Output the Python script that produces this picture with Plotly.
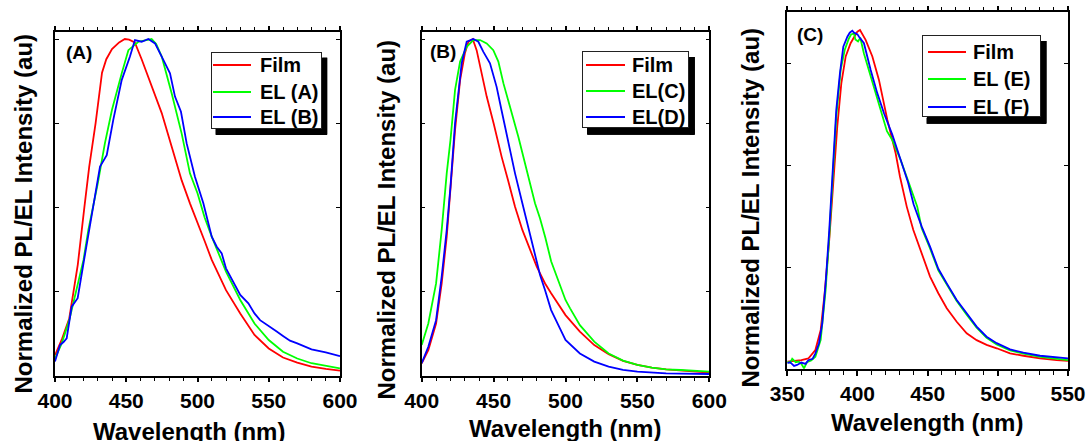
import plotly.graph_objects as go

# ---------------- data ----------------
# Panel A
a_film_wl = [400, 405, 410, 413, 416, 420.6, 424, 428.5, 433, 436, 440, 445, 449, 452, 456, 460.8, 467.8, 474.9,
             481.9, 488.9, 494.7, 500, 505, 510, 520, 530, 540, 550, 560, 570, 580, 590, 600]
a_film_val = [0.061, 0.11, 0.17, 0.25, 0.33, 0.50, 0.62, 0.75, 0.90, 0.94, 0.97, 0.99, 1.0, 0.998, 0.99, 0.94, 0.86, 0.78,
              0.68, 0.58, 0.512, 0.457, 0.40, 0.344, 0.254, 0.185, 0.121, 0.081, 0.054, 0.039, 0.027, 0.02, 0.015]
a_elA_wl = [400, 404.7, 410, 414, 420, 423.4, 430, 435, 440, 446.8, 451.5, 458.5, 464, 467.8, 471, 474.9, 481.9,
            488.9, 494.7, 500, 505, 510, 520, 530, 540, 550, 560, 570, 580, 590, 600]
a_elA_val = [0.051, 0.096, 0.165, 0.235, 0.344, 0.433, 0.571, 0.69, 0.79, 0.898, 0.967, 0.992, 0.998, 1.0, 0.985, 0.948, 0.838,
             0.719, 0.601, 0.542, 0.47, 0.413, 0.309, 0.225, 0.155, 0.106, 0.071, 0.051, 0.037, 0.029, 0.022]
a_elB_wl = [400, 403.5, 406, 408.2, 411.7, 415.9, 420, 425.7, 431.6, 436.3, 440.9, 446.8, 452.6, 456.1, 460.8, 465.5,
            470.2, 474.9, 480.7, 484.2, 488.4, 492.4, 498.2, 504.1, 507.6, 510, 513.5, 517, 520, 525.2, 530, 535.7,
            540, 543.9, 550, 555.6, 560, 564.9, 570, 575.4, 580, 590, 600]
a_elB_val = [0.042, 0.091, 0.10, 0.111, 0.205, 0.23, 0.334, 0.472, 0.621, 0.655, 0.76, 0.878, 0.948, 0.997, 0.992, 1.0,
             0.987, 0.948, 0.898, 0.829, 0.784, 0.69, 0.591, 0.512, 0.452, 0.413, 0.383, 0.363, 0.319, 0.279, 0.24, 0.215,
             0.185, 0.165, 0.146, 0.131, 0.118, 0.104, 0.096, 0.086, 0.078, 0.069, 0.058]

# Panel B
b_film_wl = [400, 404.6, 410, 413.9, 417.4, 420, 423.2, 426.7, 430, 432.5, 435.5, 438.2, 440.6, 445.2, 450, 455.6, 460,
             464.9, 470, 475.3, 480, 482.3, 485.8, 490, 496.2, 500, 510, 520, 530, 540, 550, 560, 570, 580, 590, 600]
b_film_val = [0.037, 0.076, 0.155, 0.274, 0.413, 0.551, 0.73, 0.878, 0.957, 0.992, 1.0, 0.967, 0.918, 0.829, 0.75, 0.65, 0.581,
              0.502, 0.433, 0.373, 0.324, 0.304, 0.274, 0.245, 0.205, 0.18, 0.131, 0.091, 0.064, 0.044, 0.032, 0.024, 0.019,
              0.015, 0.012, 0.009]
b_elC_wl = [400, 404.6, 410, 413.9, 417.4, 420, 423.2, 426.7, 431.3, 435.9, 440.6, 445.2, 449.8, 453.3, 456.8, 461.4,
            467.2, 473, 478.8, 482.3, 486, 490, 496.2, 500, 503.2, 510, 520, 530, 540, 550, 560, 570, 580, 590, 600]
b_elC_val = [0.091, 0.155, 0.274, 0.433, 0.601, 0.70, 0.849, 0.933, 0.977, 0.997, 0.997, 0.987, 0.967, 0.933, 0.869, 0.799,
             0.71, 0.611, 0.512, 0.467, 0.41, 0.34, 0.27, 0.225, 0.20, 0.15, 0.101, 0.066, 0.045, 0.032, 0.024, 0.019,
             0.017, 0.015, 0.012]
b_elD_wl = [400, 404.6, 410, 413.9, 417.4, 420, 423.2, 427.8, 431.3, 435.9, 439.4, 442.9, 447.5, 452.1, 455.6, 460, 464.9,
            470, 475.3, 480, 482.3, 485.8, 490, 496.2, 500, 510, 520, 530, 540, 550, 560, 570, 580, 590, 600]
b_elD_val = [0.037, 0.086, 0.165, 0.294, 0.433, 0.561, 0.75, 0.928, 0.992, 1.0, 0.992, 0.962, 0.928, 0.858, 0.787, 0.70, 0.601,
             0.512, 0.423, 0.344, 0.299, 0.254, 0.195, 0.14, 0.106, 0.066, 0.042, 0.027, 0.017, 0.012, 0.009, 0.007,
             0.006, 0.005, 0.005]

# Panel C
c_film_wl = [350, 360, 365, 370, 373.8, 376.6, 379.7, 382.8, 385.6, 388.5, 391.6, 395.1, 397.5, 399.9, 401.8, 405.8,
             410.6, 415.3, 421.3, 427.2, 430.3, 435.1, 439.8, 445.7, 451.7, 457.6, 463.6, 470.7, 477.8, 484.9, 492,
             499.2, 508.7, 518.2, 530.1, 541.9, 550]
c_film_val = [0.022, 0.026, 0.031, 0.056, 0.115, 0.223, 0.37, 0.547, 0.713, 0.841, 0.92, 0.959, 0.978, 0.993, 0.998, 0.969,
              0.92, 0.851, 0.733, 0.635, 0.566, 0.478, 0.409, 0.341, 0.272, 0.223, 0.179, 0.139, 0.105, 0.085, 0.071,
              0.061, 0.046, 0.039, 0.031, 0.026, 0.024]
c_elE_wl = [350, 352, 353.5, 356, 358, 360, 361.9, 364, 367, 370, 373.8, 377.3, 379.9, 382.3, 384.9, 388, 390.9, 393.9,
            395.5, 397.5, 398.5, 400.4, 402, 404.6, 409.4, 414.1, 418.9, 421, 424.8, 430.8, 436.7, 442.6, 445.7, 451.7,
            457.6, 463.6, 470.7, 477.8, 484.9, 492, 499.2, 508.7, 518.2, 530.1, 541.9, 550]
c_elE_val = [0.022, 0.018, 0.03, 0.02, 0.022, 0.015, 0.002, 0.02, 0.025, 0.036, 0.086, 0.232, 0.39, 0.556, 0.743, 0.88, 0.939,
             0.973, 0.985, 0.988, 0.97, 0.964, 0.975, 0.929, 0.86, 0.792, 0.723, 0.70, 0.674, 0.615, 0.547, 0.478, 0.415,
             0.355, 0.29, 0.25, 0.2, 0.16, 0.122, 0.092, 0.072, 0.055, 0.045, 0.036, 0.03, 0.026]
c_elF_wl = [350, 352, 354.8, 357, 360, 363, 365, 368, 370, 372.6, 374.9, 377.3, 379.9, 382.3, 384.9, 387.5, 389.9, 392.8,
            394.5, 396.3, 397.5, 398.7, 400, 401.1, 404.6, 409.4, 414.1, 418.9, 424.8, 430.8, 436, 440, 445.7, 451.7,
            457.6, 463.6, 470.7, 477.8, 484.9, 492, 499.2, 508.7, 518.2, 530.1, 541.9, 550]
c_elF_val = [0.017, 0.02, 0.009, 0.012, 0.019, 0.015, 0.026, 0.03, 0.046, 0.076, 0.134, 0.252, 0.409, 0.576, 0.763, 0.87,
             0.949, 0.978, 0.99, 0.996, 0.99, 0.988, 0.985, 0.978, 0.959, 0.88, 0.812, 0.753, 0.69, 0.615, 0.55, 0.485,
             0.42, 0.36, 0.295, 0.252, 0.203, 0.164, 0.125, 0.095, 0.076, 0.058, 0.048, 0.039, 0.034, 0.031]

panel_labels = ["(A)", "(B)", "(C)"]
legend_names = [["Film", "EL (A)", "EL (B)"], ["Film", "EL(C)", "EL(D)"], ["Film", "EL (E)", "EL (F)"]]
x_title = "Wavelength (nm)"
y_title = "Normalized PL/EL Intensity (au)"

# ---------------- style ----------------
W, H = 1088, 441
FONT = "Liberation Sans, Arial, sans-serif"
RED, GREEN, BLUE = "#FF0000", "#00FF00", "#0000FF"
COLORS = [RED, GREEN, BLUE]
LW = 1.8


def px(x):
    return x / W


def py(y):
    return 1 - y / H


fig = go.Figure()

series = [
    [(a_film_wl, a_film_val), (a_elA_wl, a_elA_val), (a_elB_wl, a_elB_val)],
    [(b_film_wl, b_film_val), (b_elC_wl, b_elC_val), (b_elD_wl, b_elD_val)],
    [(c_film_wl, c_film_val), (c_elE_wl, c_elE_val), (c_elF_wl, c_elF_val)],
]
for p, panel in enumerate(series):
    sfx = "" if p == 0 else str(p + 1)
    for k, (xs, ys) in enumerate(panel):
        fig.add_trace(go.Scatter(x=xs, y=ys, name=legend_names[p][k], mode="lines",
                                 line=dict(color=COLORS[k], width=LW),
                                 xaxis="x" + sfx, yaxis="y" + sfx, showlegend=False))

# plot boxes in pixels: (left, right, top, bottom)
boxes = [(55, 340, 32.3, 375.7), (421.7, 709.3, 32.3, 375.7), (787.3, 1068, 12.3, 369)]
xranges = [[400, 600], [400, 600], [350, 550]]
yranges = [[0, 1.02], [0, 1.02], [0, 1.05]]
ydticks = [0.25, 0.25, 0.3]

layout = dict(width=W, height=H, margin=dict(l=0, r=0, t=0, b=0),
              paper_bgcolor="white", plot_bgcolor="rgba(0,0,0,0)", showlegend=False,
              font=dict(family=FONT, color="black"))

for i, (l, r, t, b) in enumerate(boxes):
    sfx = "" if i == 0 else str(i + 1)
    layout["xaxis" + sfx] = dict(
        domain=[px(l), px(r)], anchor="y" + sfx, range=xranges[i],
        tickmode="linear", tick0=xranges[i][0], dtick=50,
        ticks="outside", ticklen=5, tickwidth=1.5, tickcolor="black",
        showline=True, linecolor="black", linewidth=1.5, mirror="ticks",
        showgrid=False, zeroline=False, automargin=False,
        tickfont=dict(family=FONT, size=21, color="black", weight="bold"),
        minor=dict(dtick=10, tick0=xranges[i][0], ticks="outside", ticklen=4,
                   tickwidth=1.2, tickcolor="black", showgrid=False))
    layout["yaxis" + sfx] = dict(
        domain=[py(b), py(t)], anchor="x" + sfx, range=yranges[i],
        tickmode="linear", tick0=0, dtick=ydticks[i],
        ticks="inside", ticklen=4, tickwidth=1.2, tickcolor="black",
        showticklabels=False, showline=True, linecolor="black", linewidth=1.5,
        mirror="ticks", showgrid=False, zeroline=False, automargin=False)

# invisible full-page overlay axes in pixel units (for the legend shadows)
layout["xaxis4"] = dict(domain=[0, 1], range=[0, W], visible=False, anchor="y4", fixedrange=True)
layout["yaxis4"] = dict(domain=[0, 1], range=[H, 0], visible=False, anchor="x4", fixedrange=True)

# ---------------- legends (box with drop shadow) ----------------
# (box left, box top, box right, box bottom, line x0, line x1, text x, row centres)
legends = [
    (210.7, 51.7, 321.7, 128.3, 213.3, 251.7, 257.5, [65.0, 91.7, 117.3]),
    (582.3, 51.0, 689.3, 128.3, 585.7, 625.0, 629.5, [65.0, 90.7, 117.3]),
    (921.7, 35.0, 1041.0, 117.3, 927.7, 966.0, 971.0, [51.7, 79.3, 106.7]),
]
SH_DX, SH_DY = 5, 6
annotations = []
shapes = []
for p, (l, t, r, b, lx0, lx1, tx, rows) in enumerate(legends):
    # shadow strips drawn as thick black line traces (right edge and bottom edge)
    fig.add_trace(go.Scatter(x=[r + SH_DX / 2 + 0.5, r + SH_DX / 2 + 0.5], y=[t + SH_DY, b + SH_DY + 0.5],
                             mode="lines", line=dict(color="black", width=SH_DX), hoverinfo="skip",
                             xaxis="x4", yaxis="y4", showlegend=False, cliponaxis=False))
    fig.add_trace(go.Scatter(x=[l + SH_DX, r + SH_DX], y=[b + SH_DY / 2 + 0.5, b + SH_DY / 2 + 0.5],
                             mode="lines", line=dict(color="black", width=SH_DY), hoverinfo="skip",
                             xaxis="x4", yaxis="y4", showlegend=False, cliponaxis=False))
    # same shadow as shape strokes (redundant safeguard)
    shapes.append(dict(type="line", xref="paper", yref="paper",
                       x0=px(r + SH_DX / 2 + 0.5), x1=px(r + SH_DX / 2 + 0.5),
                       y0=py(t + SH_DY), y1=py(b + SH_DY),
                       line=dict(color="black", width=SH_DX), layer="above"))
    shapes.append(dict(type="line", xref="paper", yref="paper",
                       x0=px(l + SH_DX), x1=px(r + SH_DX),
                       y0=py(b + SH_DY / 2 + 0.5), y1=py(b + SH_DY / 2 + 0.5),
                       line=dict(color="black", width=SH_DY), layer="above"))
    # black box behind the white box (annotation backgrounds)
    annotations.append(dict(text="", x=px(l + SH_DX), y=py(t + SH_DY), xref="paper", yref="paper",
                            xanchor="left", yanchor="top", showarrow=False,
                            width=r - l, height=b - t, bgcolor="black", borderpad=0, borderwidth=0))
    annotations.append(dict(text="", x=px(l), y=py(t), xref="paper", yref="paper",
                            xanchor="left", yanchor="top", showarrow=False,
                            width=r - l - 2, height=b - t - 2, bgcolor="white",
                            bordercolor="#222222", borderwidth=1, borderpad=0))
for p, (l, t, r, b, lx0, lx1, tx, rows) in enumerate(legends):
    for k, yc in enumerate(rows):
        annotations.append(dict(text="", x=px(lx0), y=py(yc), xref="paper", yref="paper",
                                xanchor="left", yanchor="middle", showarrow=False,
                                width=lx1 - lx0, height=2, bgcolor=COLORS[k],
                                borderpad=0, borderwidth=0))
        annotations.append(dict(text=legend_names[p][k], x=px(tx), y=py(yc), xref="paper", yref="paper",
                                xanchor="left", yanchor="middle", showarrow=False,
                                font=dict(family=FONT, size=20, color="black", weight="bold")))
layout["shapes"] = shapes

# panel letters
for txt, (cx, cy) in zip(panel_labels, [(78.5, 52), (442.5, 51.7), (810, 34)]):
    annotations.append(dict(text=txt, x=px(cx), y=py(cy), xref="paper", yref="paper",
                            xanchor="center", yanchor="middle", showarrow=False,
                            font=dict(family=FONT, size=19, color="black", weight="bold")))
# x titles
for cx, cy in [(188.5, 431), (565, 428), (927, 422)]:
    annotations.append(dict(text=x_title, x=px(cx), y=py(cy), xref="paper", yref="paper",
                            xanchor="center", yanchor="middle", showarrow=False,
                            font=dict(family=FONT, size=24, color="black", weight="bold")))
# y titles
for cx, cy in [(23, 213.5), (386, 219.5), (750, 207.5)]:
    annotations.append(dict(text=y_title, x=px(cx), y=py(cy), xref="paper", yref="paper",
                            xanchor="center", yanchor="middle", showarrow=False, textangle=-90,
                            font=dict(family=FONT, size=24, color="black", weight="bold")))
layout["annotations"] = annotations

fig.update_layout(**layout)
fig.write_html("out.html")
